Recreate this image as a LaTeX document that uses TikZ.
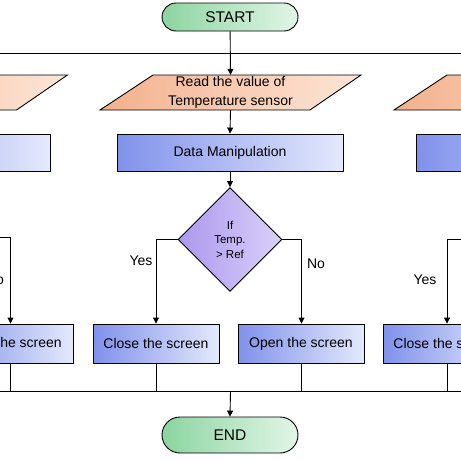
\documentclass[tikz,border=0pt]{standalone}
\usepackage{fontspec}
\setmainfont{Liberation Sans}
\usetikzlibrary{arrows.meta,shapes.geometric,calc}
\definecolor{termL}{RGB}{140,212,160}
\definecolor{termR}{RGB}{226,246,231}
\definecolor{paraL}{RGB}{243,176,140}
\definecolor{paraR}{RGB}{252,230,215}
\definecolor{procL}{RGB}{128,145,235}
\definecolor{procR}{RGB}{228,233,252}
\definecolor{diaL}{RGB}{172,152,238}
\definecolor{diaR}{RGB}{218,208,249}
\begin{document}
\begin{tikzpicture}[x=1pt,y=-1pt,
  line/.style={line width=0.9pt, draw=black},
  arr/.style={line, -{Triangle[length=6pt,width=6pt]}},
  term/.style={draw, line width=0.9pt, rounded corners=14pt, minimum width=136pt, minimum height=28pt, left color=termL, right color=termR, font=\fontsize{15.5}{18}\selectfont, inner sep=0pt},
  proc/.style={draw, line width=0.9pt, minimum width=226pt, minimum height=37pt, left color=procL, right color=procR, font=\fontsize{14}{17}\selectfont, inner sep=0pt},
  act/.style={draw, line width=0.9pt, minimum width=126pt, minimum height=39pt, left color=procL, right color=procR, font=\fontsize{14}{17}\selectfont, inner sep=0pt},
  para/.style={line width=0.9pt, draw=black, left color=paraL, right color=paraR},
  ptext/.style={minimum width=1pt, minimum height=35pt, inner sep=0pt, align=center, font=\fontsize{14}{19}\selectfont},
  dec/.style={diamond, draw, line width=0.9pt, minimum width=104pt, minimum height=104pt, inner sep=0pt, align=center, left color=diaL, right color=diaR, font=\fontsize{11.5}{14.5}\selectfont},
  lbl/.style={font=\fontsize{14}{17}\selectfont, inner sep=0pt}
]
\useasboundingbox (0,0) rectangle (461,461);
\clip (0,0) rectangle (461,461);
\fill[white] (0,0) rectangle (461,461);

% parallelograms
\foreach \dx in {-293.5,0,294} {
  \path[para] (153+\dx,75) -- (361+\dx,75) -- (310+\dx,110) -- (100+\dx,110) -- cycle;
}
\node[ptext] (pm) at (230.5,92.5) {Read the value of\\Temperature sensor};

% top
\node[term] (start) at (230,17) {START};
\coordinate (tl) at (0,53);
\coordinate (tr) at (461,53);
\draw[line] (tl) -- (tr);
\draw[arr] (start) -- (pm.north);

% process boxes
\node[proc] (dmL) at (-63,152.5) {};
\node[proc] (dm) at (230,152.5) {Data Manipulation};
\node[proc] (dmR) at (529,152.5) {};
\draw[arr] (pm.south) -- (dm.north);

% decision
\node[dec] (dia) at (230,239.5) {If\\Temp.\\> Ref};
\draw[arr] (dm.south) -- (dia.north);

% bottom boxes
\node[act] (openL) at (10,343.5) {Open the screen};
\node[act] (close) at (156,343.5) {Close the screen};
\node[act] (open) at (301,343.5) {Open the screen};
\node[act] (closeR) at (446,343.5) {Close the screen};

% branches middle
\coordinate (yc) at (156,239.5);
\coordinate (nc) at (301.5,239.5);
\draw[arr] (dia.west) -- (yc) -- (close.north);
\draw[arr] (dia.east) -- (nc) -- (open.north -| nc);
\node[lbl] (yes) at (141,261) {Yes};
\node[lbl] (no) at (316,264) {No};

% left column branch
\coordinate (le) at (0,237);
\coordinate (lc) at (10.5,237);
\draw[arr] (le) -- (lc) -- (openL.north -| lc);
\node[lbl] (noL) at (-5,280) {No};

% right column branch
\coordinate (re) at (461,239);
\coordinate (rc) at (447,239);
\draw[arr] (re) -- (rc) -- (closeR.north -| rc);
\node[lbl] (yesR) at (425,280) {Yes};

% merge
\coordinate (bl) at (0,391);
\coordinate (br) at (461,391);
\coordinate (bm) at (230.5,391);
\draw[line] (bl) -- (br);
\draw[line] (openL.south -| lc) -- (lc |- bl);
\draw[line] (close.south) -- (close.south |- bl);
\draw[line] (open.south -| nc) -- (nc |- bl);
\draw[line] (closeR.south -| rc) -- (rc |- bl);

\node[term, minimum height=36pt, rounded corners=18pt] (end) at (230,435) {END};
\draw[arr] (bm) -- (end.north);
\end{tikzpicture}
\end{document}
